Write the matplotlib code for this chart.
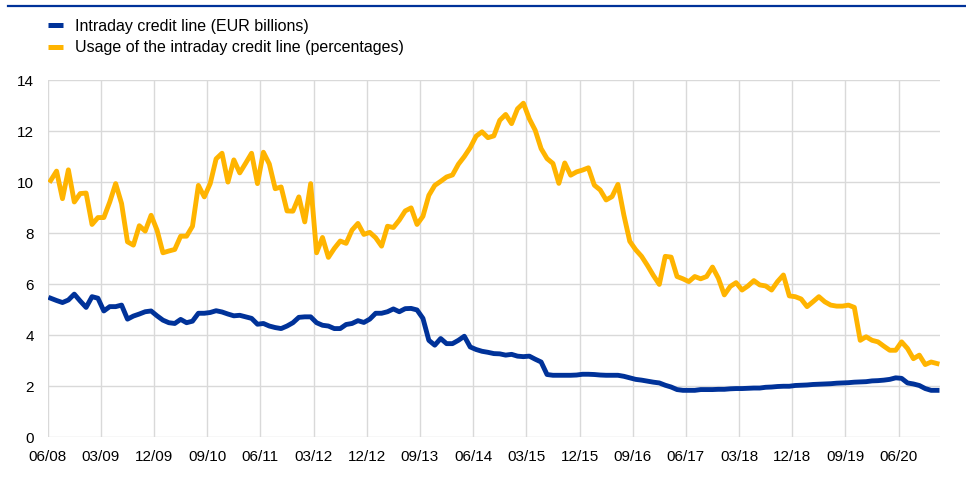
import matplotlib

matplotlib.use("Agg")
import matplotlib.pyplot as plt
import numpy as np
from matplotlib.lines import Line2D

plt.rcParams["font.family"] = ["Liberation Sans", "DejaVu Sans"]

# monthly observations, 06/08 .. 12/20
CREDIT_LINE = [
    5.45, 5.36, 5.28, 5.38, 5.61, 5.34, 5.09, 5.51, 5.45, 4.95,
    5.12, 5.12, 5.18, 4.63, 4.75, 4.83, 4.92, 4.95, 4.76, 4.59,
    4.49, 4.46, 4.62, 4.49, 4.55, 4.86, 4.86, 4.89, 4.96, 4.91,
    4.83, 4.76, 4.78, 4.72, 4.66, 4.43, 4.46, 4.36, 4.30, 4.26,
    4.36, 4.49, 4.70, 4.72, 4.72, 4.49, 4.39, 4.36, 4.26, 4.26,
    4.42, 4.46, 4.57, 4.50, 4.63, 4.86, 4.86, 4.92, 5.03, 4.92,
    5.04, 5.05, 4.99, 4.66, 3.80, 3.61, 3.87, 3.67, 3.67, 3.80,
    3.96, 3.54, 3.44, 3.37, 3.33, 3.28, 3.27, 3.22, 3.25, 3.18,
    3.16, 3.18, 3.06, 2.95, 2.46, 2.43, 2.43, 2.43, 2.43, 2.44,
    2.47, 2.47, 2.46, 2.44, 2.43, 2.43, 2.43, 2.39, 2.33, 2.27,
    2.24, 2.20, 2.16, 2.13, 2.04, 1.97, 1.87, 1.84, 1.84, 1.84,
    1.87, 1.87, 1.87, 1.88, 1.88, 1.90, 1.91, 1.91, 1.92, 1.93,
    1.93, 1.96, 1.97, 1.99, 2.00, 2.00, 2.03, 2.04, 2.05, 2.07,
    2.08, 2.09, 2.10, 2.12, 2.13, 2.14, 2.16, 2.17, 2.18, 2.21,
    2.22, 2.24, 2.27, 2.33, 2.31, 2.13, 2.09, 2.03, 1.91, 1.84,
    1.84,
]

USAGE = [
    10.06, 10.43, 9.35, 10.48, 9.22, 9.55, 9.57, 8.34, 8.61, 8.61,
    9.22, 9.94, 9.16, 7.66, 7.53, 8.29, 8.08, 8.70, 8.12, 7.23,
    7.30, 7.36, 7.88, 7.88, 8.27, 9.87, 9.42, 9.94, 10.91, 11.13,
    10.00, 10.87, 10.36, 10.74, 11.13, 9.94, 11.17, 10.71, 9.74, 9.81,
    8.87, 8.86, 9.42, 8.44, 9.94, 7.23, 7.83, 7.05, 7.40, 7.69,
    7.60, 8.12, 8.38, 7.95, 8.03, 7.82, 7.49, 8.27, 8.22, 8.51,
    8.87, 8.99, 8.34, 8.66, 9.48, 9.87, 10.03, 10.20, 10.28, 10.70,
    11.00, 11.35, 11.80, 11.97, 11.74, 11.81, 12.42, 12.65, 12.29, 12.87,
    13.09, 12.48, 12.03, 11.31, 10.92, 10.73, 9.95, 10.75, 10.27, 10.40,
    10.47, 10.56, 9.88, 9.69, 9.30, 9.43, 9.91, 8.71, 7.68, 7.35,
    7.09, 6.73, 6.34, 5.99, 7.09, 7.06, 6.30, 6.21, 6.10, 6.30,
    6.21, 6.30, 6.67, 6.23, 5.58, 5.91, 6.06, 5.77, 5.93, 6.14,
    5.97, 5.93, 5.77, 6.10, 6.36, 5.54, 5.51, 5.42, 5.12, 5.31,
    5.51, 5.31, 5.18, 5.14, 5.14, 5.18, 5.09, 3.80, 3.94, 3.80,
    3.74, 3.57, 3.41, 3.41, 3.74, 3.48, 3.08, 3.22, 2.85, 2.95,
    2.89,
]

TICK_LABELS = [
    "06/08", "03/09", "12/09", "09/10", "06/11", "03/12", "12/12", "09/13",
    "06/14", "03/15", "12/15", "09/16", "06/17", "03/18", "12/18", "09/19",
    "06/20",
]

SERIES_LABELS = [
    "Intraday credit line (EUR billions)",
    "Usage of the intraday credit line (percentages)",
]

BLUE = "#003299"
YELLOW = "#FFB400"
GRID = "#d9d9d9"


def style_axes(ax: plt.Axes, n_months: int) -> None:
    ax.set_xlim(0, n_months)
    ax.set_ylim(0, 14)
    ax.set_yticks(np.arange(0, 15, 2))
    ax.set_xticks(np.arange(len(TICK_LABELS)) * 9)
    ax.set_xticklabels(TICK_LABELS)
    for side in ["top", "right", "left", "bottom"]:
        ax.spines[side].set_visible(False)
    ax.grid(True, color=GRID, linewidth=1)
    ax.set_axisbelow(True)
    ax.tick_params(axis="both", length=0, labelsize=11, colors="#000000")
    ax.tick_params(axis="x", pad=9)
    ax.tick_params(axis="y", pad=10)


def main() -> None:
    fig = plt.figure(figsize=(9.66, 4.84), dpi=100)
    ax = fig.add_axes([47.7 / 966, 1 - 437.3 / 484, (940 - 47.7) / 966, (437.3 - 80) / 484])

    # points sit mid-month, gridlines mark month starts
    x = np.arange(len(USAGE)) + 0.5
    ax.plot(x, CREDIT_LINE, color=BLUE, linewidth=3.5, solid_joinstyle="round",
            label=SERIES_LABELS[0])
    ax.plot(x, USAGE, color=YELLOW, linewidth=3.5, solid_joinstyle="round",
            label=SERIES_LABELS[1])
    style_axes(ax, len(USAGE))

    handles = [
        Line2D([], [], color=BLUE, linewidth=3.6, solid_capstyle="butt"),
        Line2D([], [], color=YELLOW, linewidth=3.6, solid_capstyle="butt"),
    ]
    fig.legend(
        handles,
        SERIES_LABELS,
        loc="upper left",
        bbox_to_anchor=(48 / 966, 1 - 19 / 484),
        frameon=False,
        borderpad=0,
        borderaxespad=0,
        handlelength=0.95,
        handletextpad=0.75,
        labelspacing=0.4,
        fontsize=11.5,
    )

    fig.add_artist(Line2D([8 / 966, 1], [1 - 6 / 484, 1 - 6 / 484], color=BLUE, linewidth=1.6))

    fig.savefig("out.png", dpi=100)
    plt.close(fig)


if __name__ == "__main__":
    main()
